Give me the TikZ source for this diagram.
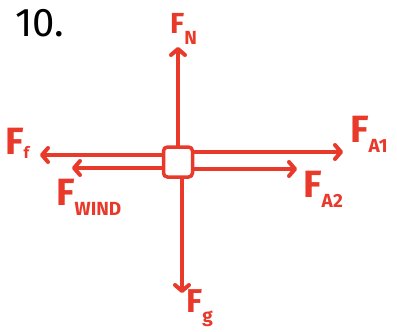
\documentclass[tikz,border=0pt]{standalone}
\usepackage{fontspec}
\setmainfont{Fira Sans}
\usetikzlibrary{positioning, arrows.meta}
\definecolor{fcolor}{HTML}{E8392A}

% force label: big F with a lowered subscript
\newcommand{\forcelbl}[1]{F\raisebox{-10pt}{\fontsize{19}{19}\selectfont #1}}

\begin{document}
\begin{tikzpicture}[x=1pt, y=-1pt,
    body/.style={rectangle, draw=fcolor, rounded corners=4pt, line width=3.5pt, minimum width=29pt, minimum height=30pt, inner sep=0pt},
    force/.style={-{Straight Barb[round, length=6pt, width=14pt]}, draw=fcolor, line width=4pt, line cap=round},
    lbl/.style={text=fcolor, font=\fontsize{38}{38}\selectfont\bfseries, inner sep=0pt, anchor=base west},
  ]
    \useasboundingbox (0,0) rectangle (397,332);

    \node[font=\fontsize{40}{40}\selectfont, inner sep=0pt, anchor=base west] (num) at (15,37) {10.};

    \node[body] (obj) at (178,162) {};

    % arrow tips
    \coordinate (tipN) at (178,47);
    \coordinate (tipG) at (182,293);
    \coordinate (tipF) at (40,155);
    \coordinate (tipW) at (72,168);
    \coordinate (tipA) at (343,152);
    \coordinate (tipB) at (297,169);

    \draw[force] (obj.north -| tipN) -- (tipN);
    \draw[force] (obj.south -| tipG) -- (tipG);
    \draw[force] (obj.west |- tipF) -- (tipF);
    \draw[force] (obj.west |- tipW) -- (tipW);
    \draw[force] (obj.east |- tipA) -- (tipA);
    \draw[force] (obj.east |- tipB) -- (tipB);

    % labels
    \node[lbl, font=\fontsize{29}{29}\selectfont\bfseries] (lblN) at (170,34) {\forcelbl{N}};
    \node[lbl] (lblF) at (5,154) {F\raisebox{-4pt}{\fontsize{16}{16}\selectfont f}};
    \node[lbl] (lblW) at (56,205) {\forcelbl{WIND}};
    \node[lbl] (lblA) at (350,142) {\forcelbl{A1}};
    \node[lbl] (lblB) at (303,197) {\forcelbl{A2}};
    \node[lbl, font=\fontsize{33}{33}\selectfont\bfseries] (lblG) at (186,312) {\forcelbl{g}};
  \end{tikzpicture}
\end{document}
